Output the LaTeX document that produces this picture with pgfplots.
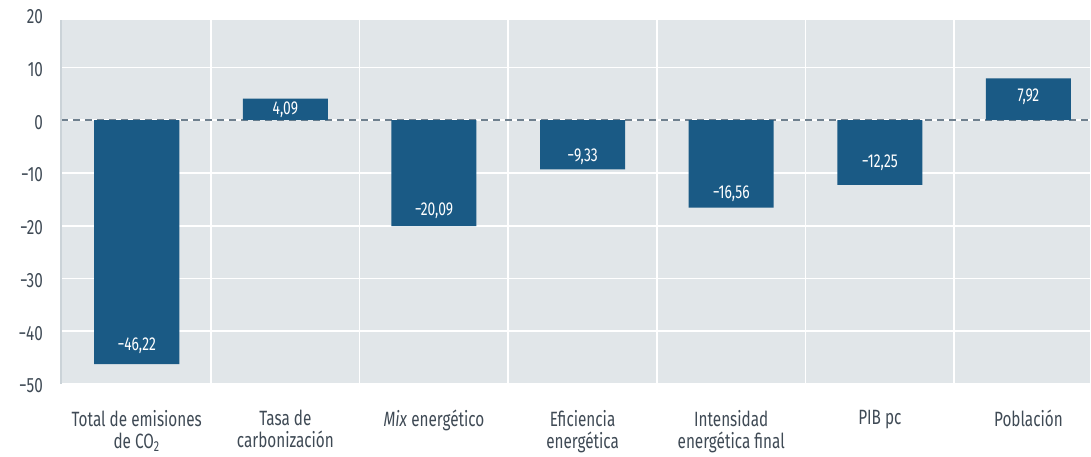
\documentclass[border=0pt]{standalone}
\usepackage{fontspec}
\setmainfont{Fira Sans}[FakeStretch=0.74]
\usepackage{pgfplots}
\usepackage{pgfplotstable}
\pgfplotsset{compat=1.18}
\definecolor{barblue}{HTML}{1A5A85}
\definecolor{bgc}{HTML}{E1E6E9}
\definecolor{txt}{HTML}{3F4A55}
\definecolor{dashc}{HTML}{6F808E}
\definecolor{axc}{HTML}{CBD3D8}

\pgfplotstableread{
x y lpos lab
0 -46.22 -42.8 −46,22
1 4.09 2.0 4,09
2 -20.09 -17.2 −20,09
3 -9.33 -6.9 −9,33
4 -16.56 -14.0 −16,56
5 -12.25 -8.1 −12,25
6 7.92 4.5 7,92
}\data

\begin{document}
\begin{tikzpicture}
\begin{axis}[
  scale only axis, width=772pt, height=273pt,
  xmin=-0.51, xmax=6.415, ymin=-50, ymax=19,
  axis background/.style={fill=bgc},
  axis line style={draw=none},
  clip=false,
  xtick={0,...,6},
  xticklabels={Total de emisiones\\de CO\textsubscript{2},Tasa de\\carbonización,\textit{Mix} energético,Eficiencia\\energética,Intensidad\\energética final,PIB pc,Población},
  minor xtick={0.5,1.5,...,5.5},
  xminorgrids,
  minor grid style={white, line width=1.2pt},
  ytick={-50,-40,...,10},
  yticklabels={−50,−40,−30,−20,−10,0,10},
  ymajorgrids,
  major grid style={white, line width=1.2pt},
  tick style={draw=none},
  minor tick style={draw=none},
  xticklabel style={align=center, text=txt, font=\fontsize{15.5}{16.5}\selectfont, yshift=-16pt},
  yticklabel style={text=txt, font=\fontsize{15.5}{16}\selectfont, xshift=-10pt, yshift=-1.5pt},
  extra description/.code={
    \draw[axc, line width=1pt] (0,0) -- (0,1);
    \path (-0.05922,-0.19231) rectangle (1,1.05495);
  },
]
\addplot[dashc, dash pattern=on 5.5pt off 3.5pt, line width=1.3pt, forget plot] coordinates {(-0.51,0) (6.415,0)};
\addplot[ybar, bar width=0.572, fill=barblue, draw=none] table[x=x,y=y]{\data};
\addplot[only marks, mark=none, nodes near coords, point meta=explicit symbolic,
  nodes near coords style={anchor=center, text=white, font=\fontsize{14}{15}\selectfont}]
  table[x=x, y=lpos, meta=lab]{\data};
\node[anchor=east, text=txt, font=\fontsize{15.5}{16}\selectfont, xshift=-10pt, yshift=-1.5pt, inner sep=0.333em] at (axis cs:-0.51,20) {20};
\end{axis}
\end{tikzpicture}
\end{document}
